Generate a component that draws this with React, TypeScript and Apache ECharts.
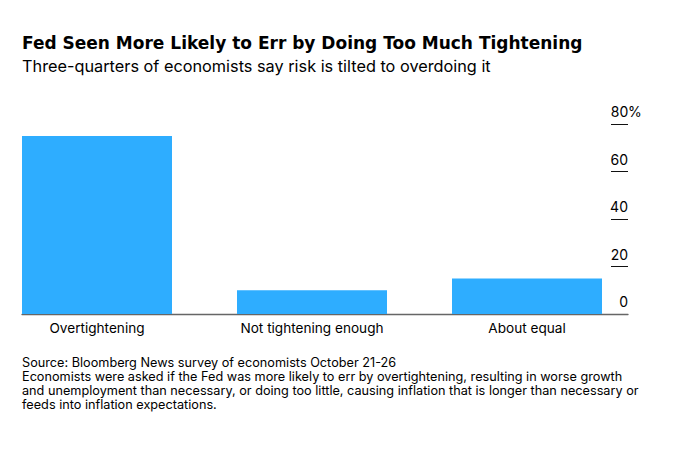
import React, { useEffect, useRef } from "react";
import * as echarts from "echarts";

const categories = ["Overtightening", "Not tightening enough", "About equal"];
const shares = [75, 10, 15];
const yTicks = [0, 20, 40, 60, 80];

const titleText = "Fed Seen More Likely to Err by Doing Too Much Tightening";
const subtitleText = "Three-quarters of economists say risk is tilted to overdoing it";
const footerLines = [
  "Source: Bloomberg News survey of economists October 21-26",
  "Economists were asked if the Fed was more likely to err by overtightening, resulting in worse growth",
  "and unemployment than necessary, or doing too little, causing inflation that is longer than necessary or",
  "feeds into inflation expectations.",
];

const FONT = "Inter, 'Liberation Sans', Arial, sans-serif";
const TITLE_FONT = "'DejaVu Sans', Inter, Arial, sans-serif";

export default function App() {
  const ref = useRef<HTMLDivElement>(null);
  useEffect(() => {
    if (!ref.current) return;
    const chart = echarts.init(ref.current, undefined, { renderer: "svg" });
    const top = 124;
    const bottom = 462 - 314;
    chart.setOption({
      animation: false,
      backgroundColor: "#ffffff",
      textStyle: { fontFamily: FONT },
      title: [
        {
          text: titleText,
          left: 22,
          top: 34.5,
          padding: 0,
          textStyle: { fontFamily: TITLE_FONT, fontSize: 17, fontWeight: "bold", color: "#000" },
        },
        {
          text: subtitleText,
          left: 22,
          top: 57.5,
          padding: 0,
          textStyle: { fontFamily: FONT, fontSize: 16.3, fontWeight: "normal", color: "#000" },
        },
        {
          text: footerLines.join("\n"),
          left: 22,
          top: 355.5,
          padding: 0,
          textStyle: { fontFamily: FONT, fontSize: 12.7, fontWeight: "normal", color: "#000", lineHeight: 14 },
        },
      ],
      grid: [
        { left: 22, right: 677 - 628, top, bottom, containLabel: false },
        { left: 97, right: 677 - 527, top, bottom, containLabel: false },
        { left: 611, right: 677 - 628, top, bottom, containLabel: false },
      ],
      xAxis: [
        {
          type: "value",
          gridIndex: 0,
          min: 0,
          max: 1,
          axisLine: { show: true, onZero: false, lineStyle: { color: "#666", width: 1.3 } },
          axisTick: { show: false },
          axisLabel: { show: false },
          splitLine: { show: false },
        },
        {
          type: "category",
          gridIndex: 1,
          data: categories,
          boundaryGap: false,
          axisLine: { show: false },
          axisTick: { show: false },
          axisLabel: {
            show: true,
            interval: 0,
            margin: 7,
            fontFamily: FONT,
            fontSize: 13.6,
            color: "#000",
          },
          splitLine: { show: false },
        },
        {
          type: "value",
          gridIndex: 2,
          min: 0,
          max: 1,
          show: false,
        },
      ],
      yAxis: [
        {
          type: "value",
          gridIndex: 0,
          min: 0,
          max: 80,
          show: false,
        },
        {
          type: "value",
          gridIndex: 1,
          min: 0,
          max: 80,
          show: false,
        },
        {
          type: "value",
          gridIndex: 2,
          position: "left",
          min: 0,
          max: 80,
          interval: 20,
          axisLine: { show: false },
          axisTick: { show: false },
          splitLine: { show: true, lineStyle: { color: ["#666", "#111", "#111", "#111", "#111"], width: 1 } },
          axisLabel: {
            show: true,
            inside: true,
            margin: 0,
            align: "left",
            verticalAlign: "bottom",
            padding: [0, 0, 5.5, 0],
            formatter: (v: number) => (v === yTicks[yTicks.length - 1] ? `{n|${v}}{p|%}` : `{n|${v}}`),
            rich: {
              n: { width: 17, align: "right", fontFamily: FONT, fontSize: 14, color: "#000" },
              p: { fontFamily: FONT, fontSize: 14, color: "#000" },
            },
          },
        },
      ],
      series: [
        {
          type: "bar",
          xAxisIndex: 1,
          yAxisIndex: 1,
          data: shares,
          barWidth: 150,
          clip: false,
          itemStyle: { color: "#2eadff" },
          z: 1,
        },
      ],
    });
    return () => chart.dispose();
  }, []);
  return <div ref={ref} style={{ width: 677, height: 462, margin: -8 }} />;
}
